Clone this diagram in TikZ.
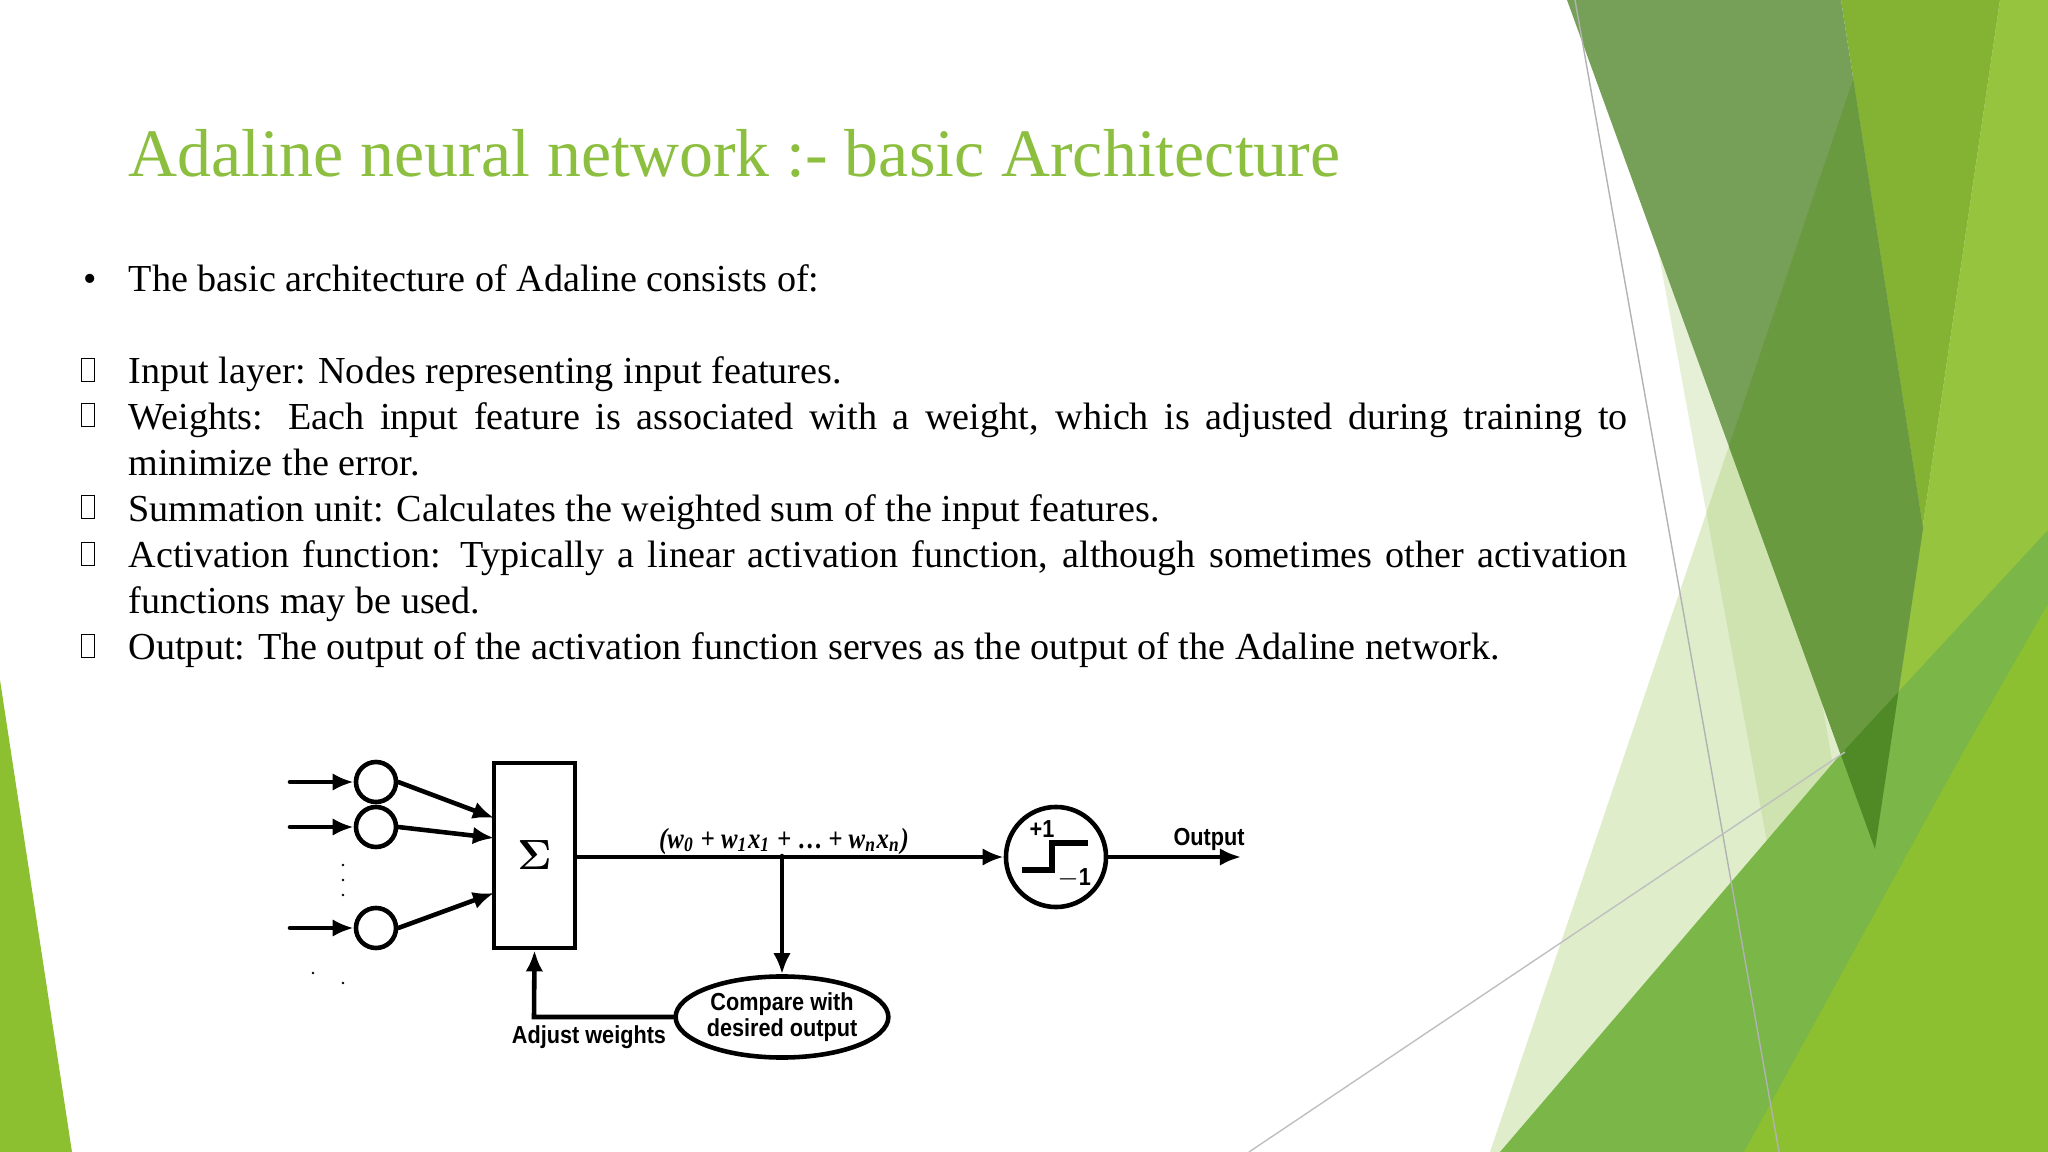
\documentclass[tikz,border=0pt]{standalone}
\usepackage{amsmath,bm}
\usepackage{fontspec}
\setmainfont{Liberation Serif}
\newfontfamily\dsans[FakeStretch=0.88]{Liberation Sans}
\newfontfamily\dserif[FakeStretch=0.85]{Liberation Serif}
\usetikzlibrary{arrows.meta,shapes.geometric}
\hyphenpenalty=10000
\exhyphenpenalty=10000
\definecolor{ttl}{HTML}{8CBF3F}
\definecolor{gA}{HTML}{76A057}
\definecolor{gB}{HTML}{84B333}
\definecolor{gC}{HTML}{97C43E}
\definecolor{gD}{HTML}{7AB648}
\definecolor{gE}{HTML}{8DC030}
\definecolor{gP}{HTML}{A5CC6A}
\definecolor{gS}{HTML}{E6F0D6}
\definecolor{gK}{HTML}{6A9A40}
\definecolor{gX}{HTML}{4F8A26}
\begin{document}
\begin{tikzpicture}[x=0.01cm,y=-0.01cm,
  ln/.style={line width=1.3pt,line cap=round},
  arr/.style={ln,-{Latex[length=6pt,width=5pt]}},
  lbl/.style={font=\dsans\bfseries\fontsize{7}{7.6}\selectfont,inner sep=0pt},
  itm/.style={anchor=north west,inner sep=0pt,text width=14.98cm,align=justify,font=\fontsize{10.85}{13.09}\selectfont},
  box/.style={draw,line width=0.4pt,minimum width=3.6pt,minimum height=6.4pt,inner sep=0pt}]
\useasboundingbox (0,0) rectangle (2048,1152);
% background shapes
\fill[gS] (1612,0) -- (1700,0) -- (1900,1152) -- (1824,1152) -- cycle;
\fill[gP,fill opacity=0.35] (1490,1152) -- (1880,0) -- (2048,0) -- (2048,1152) -- cycle;
\fill[gB] (1841,0) -- (2000,0) -- (1831,1152) -- (1800,1152) -- (1875,849) -- (1923,528) -- cycle;
\fill[gC] (2000,0) -- (2048,0) -- (2048,1152) -- (1831,1152) -- cycle;
\fill[gA] (1567,0) -- (1841,0) -- (1923,528) -- (1875,849) -- cycle;
\begin{scope}
  \clip (1490,1152) -- (1880,0) -- (2048,0) -- (2048,1152) -- cycle;
  \fill[gK] (1567,0) -- (1841,0) -- (1923,528) -- (1875,849) -- cycle;
\end{scope}
\fill[gD] (1500,1152) -- (1839,756) -- (2048,530) -- (2048,1152) -- cycle;
\begin{scope}
  \clip (1500,1152) -- (1839,756) -- (2048,530) -- (2048,1152) -- cycle;
  \fill[gX] (1567,0) -- (1841,0) -- (1923,528) -- (1875,849) -- cycle;
\end{scope}
\fill[gE] (1744,1152) -- (1961,756) -- (2048,604) -- (2048,1152) -- cycle;
\fill[gE] (0,680) -- (0,1152) -- (72,1152) -- cycle;
\draw[gray!60,line width=0.4pt] (1575,0) -- (1779,1152);
\draw[gray!50,line width=0.4pt] (1249,1152) -- (1845,752);
% text
\node[anchor=base west,inner sep=0pt,text=ttl,font=\fontsize{19.3}{22}\selectfont] (title) at (128,177) {Adaline neural network :- basic Architecture};
\node[anchor=base west,inner sep=0pt,font=\fontsize{10.85}{13}\selectfont] (bul) at (83,292) {•};
\node[anchor=base west,inner sep=0pt,font=\fontsize{10.85}{13}\selectfont] (intro) at (128,292) {The basic architecture of Adaline consists of:};
\foreach \y/\n in {370/a,415/b,507/c,554/d,646/e}{\node[box] (bx\n) at (88,\y) {};}
\node[itm] (i1) at (128,356) {Input layer: Nodes representing input features.};
\node[itm] (i2) at (128,402) {Weights: Each input feature is associated with a weight, which is adjusted during training to minimize the error.};
\node[itm] (i3) at (128,494) {Summation unit: Calculates the weighted sum of the input features.};
\node[itm] (i4) at (128,540) {Activation function: Typically a linear activation function, although sometimes other activation functions may be used.};
\node[itm] (i5) at (128,632) {Output: The output of the activation function serves as the output of the Adaline network.};
% diagram
\foreach \y/\n in {782/1,827/2,928/3}{
  \node[draw,circle,line width=1.3pt,minimum size=0.4cm,inner sep=0pt] (c\n) at (376,\y) {};
  \coordinate (s\n) at (290,\y);
  \draw[arr] (s\n) -- (c\n.west);}
\node[draw,line width=1.3pt,minimum width=0.81cm,minimum height=1.85cm,inner sep=0pt,font=\fontsize{13}{13}\selectfont] (sum) at (534.5,855.5) {$\bm{\Sigma}$};
\coordinate (e1) at (494,818); \coordinate (e2) at (494,838); \coordinate (e3) at (494,893);
\draw[arr] (c1.east) -- (e1);
\draw[arr] (c2.east) -- (e2);
\draw[arr] (c3.east) -- (e3);
\foreach \p/\q in {343/865,343/880,343/895,313/973,343/983}{\fill (\p,\q) circle (1.3);}
\node[draw,circle,line width=1.3pt,minimum size=1cm,inner sep=0pt] (act) at (1056,857) {};
\coordinate (j) at (782,856);
\draw[arr] (sum.east |- act) -- (act.west);
\node[ellipse,draw,line width=1.3pt,minimum width=2cm,minimum height=0.81cm,inner sep=0pt,lbl,align=center] (cmp) at (782,1017) {Compare with\\desired output};
\draw[arr] (j) -- (cmp.north);
\coordinate (fb) at (534,1017);
\draw[ln,-{Latex[length=6pt,width=5pt]}] (cmp.west) -- (fb) -- (sum.south);
\coordinate (out) at (1241,857);
\draw[arr] (act.east) -- (out);
\node[lbl,anchor=base] (outl) at (1209,845) {Output};
\node[lbl,anchor=base] (adj) at (589,1043) {Adjust weights};
\node[anchor=base,inner sep=0pt,font=\dserif\bfseries\itshape\fontsize{8.3}{9}\selectfont] (form) at (784,848) {(w\textsubscript{0} + w\textsubscript{1}x\textsubscript{1} + \textup{\dots} + w\textsubscript{n}x\textsubscript{n})};
\draw[line width=1.8pt] (1022,870) -- (1052,870) -- (1052,843) -- (1088,843);
\node[lbl,anchor=base] (p1) at (1042,837) {+1};
\node[lbl,anchor=base] (m1) at (1074,885) {$-$1};
\end{tikzpicture}
\end{document}
